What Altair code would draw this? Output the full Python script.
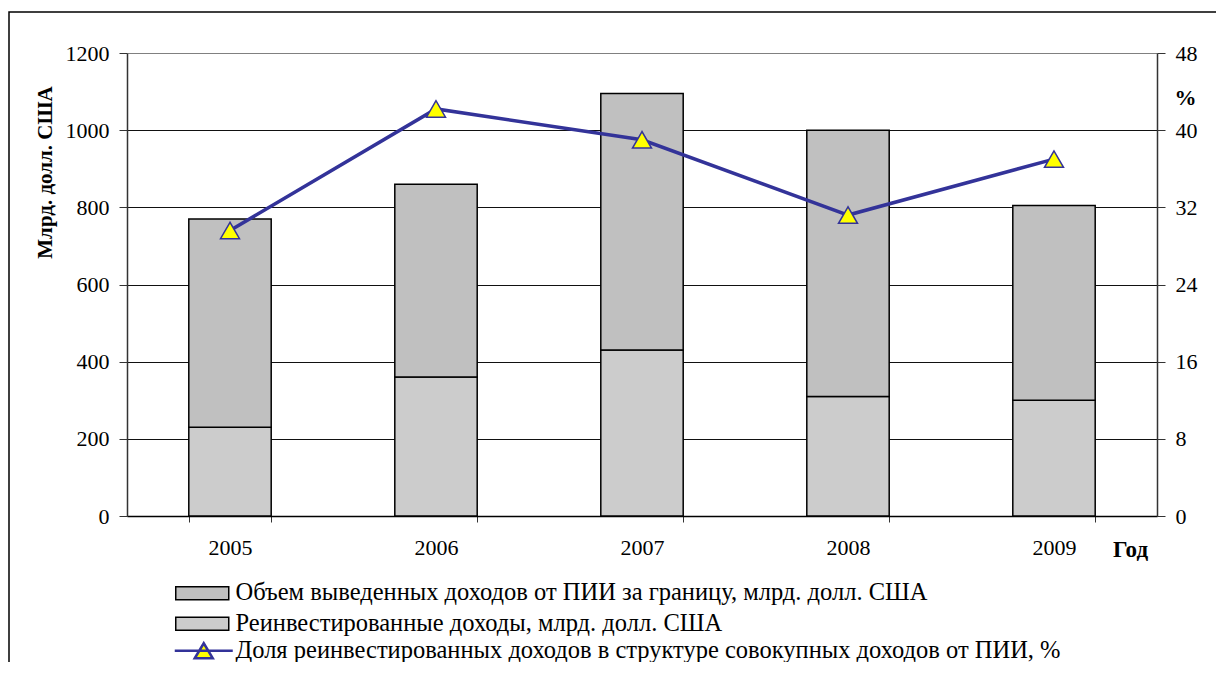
import altair as alt
import pandas as pd

years = ["2005", "2006", "2007", "2008", "2009"]
withdrawn = [540, 500, 665, 690, 505]
reinvested = [230, 360, 430, 310, 300]
share = [29.6, 42.2, 39.0, 31.2, 37.0]

s_withdrawn = "Объем выведенных доходов от ПИИ за границу, млрд. долл. США"
s_reinv = "Реинвестированные доходы, млрд. долл. США"
s_share = "Доля реинвестированных доходов в структуре совокупных доходов от ПИИ, %"

left_ticks = [0, 200, 400, 600, 800, 1000, 1200]
right_ticks = [0, 8, 16, 24, 32, 40, 48]

rows = []
for yr, w, r in zip(years, withdrawn, reinvested):
    rows.append({"year": yr, "series": s_reinv, "value": r, "ord": 0})
    rows.append({"year": yr, "series": s_withdrawn, "value": w, "ord": 1})
bars_df = pd.DataFrame(rows)
line_df = pd.DataFrame({"year": years, "share": share, "series": [s_share] * len(years)})

FONT = "'Liberation Serif', 'Times New Roman', Times, serif"
AXC = "#333333"
LEG_FS = 24.5

x_axis = alt.Axis(
    title="Год", titleFont=FONT, titleFontSize=23, titleFontWeight="bold", titleColor="black",
    titleAngle=0, titleX=1003, titleY=33, titleAlign="center", titleBaseline="middle",
    labelFont=FONT, labelFontSize=22, labelColor="black", labelAngle=0, labelPadding=15,
    tickBand="extent", tickSize=6, tickColor=AXC, domainColor="black", domainWidth=1.5,
    grid=False,
)
x_enc = alt.X("year:N", scale=alt.Scale(paddingInner=0.6, paddingOuter=0.3), axis=x_axis)

bars = alt.Chart(bars_df).mark_bar(stroke="black", strokeWidth=1.5).encode(
    x=x_enc,
    y=alt.Y(
        "value:Q", stack="zero",
        scale=alt.Scale(domain=[0, 1200], nice=False),
        axis=alt.Axis(
            orient="left", values=left_ticks, format="d", title="Млрд. долл. США",
            titleFont=FONT, titleFontSize=21, titleFontWeight="bold", titleColor="black",
            titleAngle=270, titleX=-82, titleY=119, titleAlign="center", titleBaseline="middle",
            labelFont=FONT, labelFontSize=22, labelColor="black", labelPadding=10,
            tickSize=8, tickColor=AXC, domainColor=AXC, domainWidth=1.5,
            grid=True, gridWidth=1,
            gridColor={"condition": {"test": "datum.value === 1200", "value": "#808080"}, "value": "#111111"},
        ),
    ),
    fill=alt.Fill(
        "series:N",
        scale=alt.Scale(domain=[s_withdrawn, s_reinv], range=["#c0c0c0", "#cccccc"]),
        legend=alt.Legend(
            orient="none", legendX=47, legendY=528, title=None,
            symbolType="M-1,-0.619L4.048,-0.619L4.048,0.619L-1,0.619Z", symbolSize=441,
            symbolStrokeColor="black", symbolStrokeWidth=1.5,
            labelFont=FONT, labelFontSize=LEG_FS, labelColor="black", labelLimit=1000,
            labelOffset=37, rowPadding=5.5, padding=0,
        ),
    ),
    order=alt.Order("ord:Q"),
)

right_axis = alt.Axis(
    orient="right", values=right_ticks, title="%",
    titleFont=FONT, titleFontSize=22, titleFontWeight="bold", titleColor="black",
    titleAngle=0, titleX=28, titleY=44, titleAlign="center", titleBaseline="middle",
    labelFont=FONT, labelFontSize=22, labelColor="black", labelPadding=10,
    tickSize=8, tickColor=AXC, domainColor=AXC, domainWidth=1.5, grid=False,
)
base = alt.Chart(line_df).encode(
    x=x_enc,
    y=alt.Y("share:Q", scale=alt.Scale(domain=[0, 48], nice=False), axis=right_axis),
)
line = base.mark_line(strokeWidth=3.5).encode(
    stroke=alt.Stroke(
        "series:N",
        scale=alt.Scale(domain=[s_share], range=["#333399"]),
        legend=alt.Legend(
            orient="none", legendX=46, legendY=585.5, title=None,
            symbolType="M-1,0L4.524,0M0.905,0.714L1.762,-0.714L2.619,0.714Z", symbolSize=441,
            symbolFillColor="#ffff00", symbolStrokeWidth=2.5,
            labelFont=FONT, labelFontSize=LEG_FS, labelColor="black", labelLimit=1000,
            labelOffset=38, padding=0,
        ),
    )
)
points = base.mark_point(
    shape="triangle-up", filled=True, fill="#ffff00", stroke="#333399",
    strokeWidth=1.5, size=360, opacity=1,
)

frame = alt.Chart(alt.Data(values=[{}])).mark_rect(
    fill="transparent", stroke="black", strokeWidth=1.5
).encode(
    x=alt.value(-118), x2=alt.value(1300), y=alt.value(-41), y2=alt.value(800)
)

chart = alt.layer(frame, bars, alt.layer(line, points)).resolve_scale(
    y="independent"
).properties(
    width=1030, height=463,
    padding={"left": 119, "top": 45, "right": 59, "bottom": 146},
    autosize="none",
).configure(font=FONT).configure_view(strokeWidth=0)

chart.save("out.html", embed_options={"renderer": "svg", "actions": False})
